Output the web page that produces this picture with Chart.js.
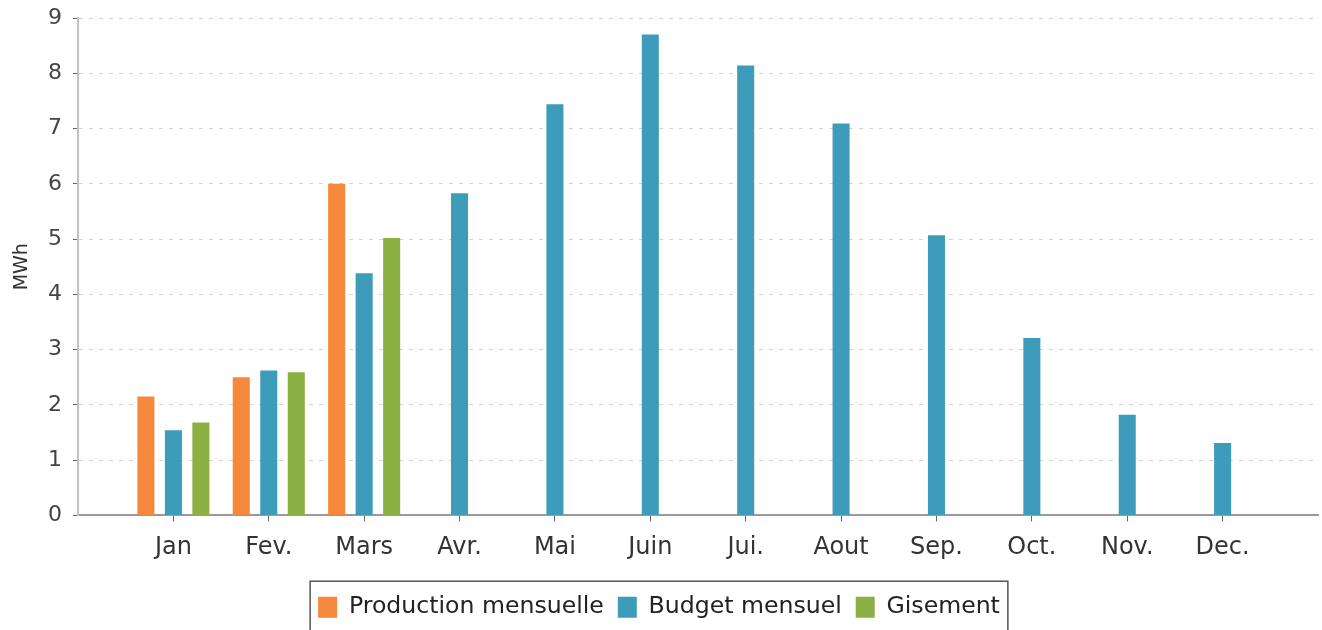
<!DOCTYPE html>
<html>
<head>
<meta charset="utf-8">
<script src="https://cdn.jsdelivr.net/npm/chart.js@4/dist/chart.umd.min.js"></script>
<style>
  html, body { margin: 0; padding: 0; background: #fff; }
  #wrap { width: 1322px; height: 630px; }
</style>
</head>
<body>
<div id="wrap"><canvas id="energy-chart"></canvas></div>
<script>
// mois affichés sur l'axe
const months = ['Jan', 'Fev.', 'Mars', 'Avr.', 'Mai', 'Juin', 'Jui.', 'Aout', 'Sep.', 'Oct.', 'Nov.', 'Dec.'];
// valeurs (MWh)
const production = [2.15, 2.5, 6.0, null, null, null, null, null, null, null, null, null];
const budget = [1.54, 2.62, 4.38, 5.83, 7.44, 8.7, 8.14, 7.09, 5.07, 3.21, 1.82, 1.31];
const gisement = [1.68, 2.59, 5.02, null, null, null, null, null, null, null, null, null];
const yTicks = [0, 1, 2, 3, 4, 5, 6, 7, 8, 9];

// un créneau vide de chaque côté, comme sur l'original
const pad = (arr) => [null, ...arr, null];
const labels = ['', ...months, ''];

// cadre autour de la légende
const legendFrame = {
	id: 'legendFrame',
	afterDraw(chart) {
		const boxes = chart.legend.legendHitBoxes;
		if (!boxes || !boxes.length) return;
		const left = Math.min(...boxes.map((b) => b.left)) - 8;
		const right = Math.max(...boxes.map((b) => b.left + b.width)) + 8;
		const mid = boxes[0].top + boxes[0].height / 2;
		const c = chart.ctx;
		c.save();
		c.strokeStyle = '#555';
		c.lineWidth = 1.5;
		c.strokeRect(left, mid - 26, right - left, 70);
		c.restore();
	},
};

const ctx = document.getElementById('energy-chart').getContext('2d');
const chart = new Chart(ctx, {
	type: 'bar',
	data: {
		labels: labels,
		datasets: [
			{ label: 'Production mensuelle', data: pad(production), backgroundColor: '#F5883A' },
			{ label: 'Budget mensuel', data: pad(budget), backgroundColor: '#3E9CBB' },
			{ label: 'Gisement', data: pad(gisement), backgroundColor: '#8BB043' },
		],
	},
	options: {
		responsive: true,
		maintainAspectRatio: false,
		animation: false,
		layout: { autoPadding: false, padding: { top: 18, right: 4, bottom: 1, left: 0 } },
		datasets: { bar: { categoryPercentage: 0.865, barPercentage: 0.62 } },
		scales: {
			x: {
				offset: false,
				grid: {
					offset: false,
					drawOnChartArea: false,
					drawTicks: true,
					tickLength: 6,
					tickColor: (c) => (c.index === 0 || c.index === labels.length - 1 ? 'rgba(0,0,0,0)' : '#666'),
				},
				border: { color: '#9a9a9a', width: 2 },
				ticks: {
					autoSkip: false,
					maxRotation: 0,
					padding: 12,
					color: '#333',
					font: { family: 'DejaVu Sans', size: 24 },
				},
				afterFit: (scale) => {
					scale.height = 66;
					scale.paddingLeft = 0;
					scale.paddingRight = 0;
				},
			},
			y: {
				min: 0,
				max: 9,
				afterBuildTicks: (scale) => { scale.ticks = yTicks.map((v) => ({ value: v })); },
				grid: {
					color: '#d3d3d3',
					lineWidth: 1,
					tickColor: '#666',
					tickLength: 5,
				},
				border: { color: '#c2c2c2', width: 2, dash: [4, 6] },
				ticks: {
					padding: 11,
					color: '#444',
					font: { family: 'DejaVu Sans', size: 22 },
				},
				title: {
					display: true,
					text: 'MWh',
					color: '#333',
					font: { family: 'DejaVu Sans', size: 19 },
					padding: { top: 11, bottom: 0 },
				},
				afterFit: (scale) => {
					scale.width = 78;
					scale.paddingTop = 0;
					scale.paddingBottom = 0;
				},
			},
		},
		plugins: {
			legend: {
				position: 'bottom',
				labels: {
					boxWidth: 19,
					boxHeight: 21,
					padding: 14,
					color: '#222',
					font: { family: 'DejaVu Sans', size: 23.6 },
				},
			},
			tooltip: { enabled: false },
		},
	},
	plugins: [legendFrame],
});
</script>
</body>
</html>
